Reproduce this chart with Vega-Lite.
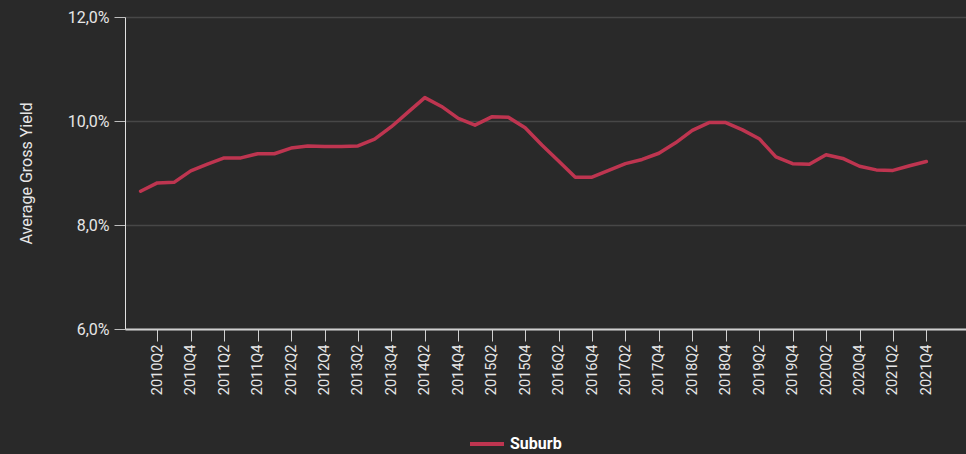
{
  "$schema": "https://vega.github.io/schema/vega-lite/v6.json",
  "width": 841,
  "height": 312,
  "autosize": {"type": "none"},
  "padding": {"left": 125, "top": 17, "right": 0, "bottom": 125},
  "background": "#292929",
  "config": {
    "view": {"stroke": null},
    "font": "Roboto"
  },
  "data": {
    "values": [
      {"quarter": "2010Q1", "t": 0, "yield": 8.65, "series": "Suburb"},
      {"quarter": "2010Q2", "t": 1, "yield": 8.81, "series": "Suburb"},
      {"quarter": "2010Q3", "t": 2, "yield": 8.82, "series": "Suburb"},
      {"quarter": "2010Q4", "t": 3, "yield": 9.04, "series": "Suburb"},
      {"quarter": "2011Q1", "t": 4, "yield": 9.17, "series": "Suburb"},
      {"quarter": "2011Q2", "t": 5, "yield": 9.29, "series": "Suburb"},
      {"quarter": "2011Q3", "t": 6, "yield": 9.29, "series": "Suburb"},
      {"quarter": "2011Q4", "t": 7, "yield": 9.37, "series": "Suburb"},
      {"quarter": "2012Q1", "t": 8, "yield": 9.37, "series": "Suburb"},
      {"quarter": "2012Q2", "t": 9, "yield": 9.48, "series": "Suburb"},
      {"quarter": "2012Q3", "t": 10, "yield": 9.52, "series": "Suburb"},
      {"quarter": "2012Q4", "t": 11, "yield": 9.51, "series": "Suburb"},
      {"quarter": "2013Q1", "t": 12, "yield": 9.51, "series": "Suburb"},
      {"quarter": "2013Q2", "t": 13, "yield": 9.52, "series": "Suburb"},
      {"quarter": "2013Q3", "t": 14, "yield": 9.65, "series": "Suburb"},
      {"quarter": "2013Q4", "t": 15, "yield": 9.89, "series": "Suburb"},
      {"quarter": "2014Q1", "t": 16, "yield": 10.17, "series": "Suburb"},
      {"quarter": "2014Q2", "t": 17, "yield": 10.45, "series": "Suburb"},
      {"quarter": "2014Q3", "t": 18, "yield": 10.28, "series": "Suburb"},
      {"quarter": "2014Q4", "t": 19, "yield": 10.05, "series": "Suburb"},
      {"quarter": "2015Q1", "t": 20, "yield": 9.92, "series": "Suburb"},
      {"quarter": "2015Q2", "t": 21, "yield": 10.08, "series": "Suburb"},
      {"quarter": "2015Q3", "t": 22, "yield": 10.07, "series": "Suburb"},
      {"quarter": "2015Q4", "t": 23, "yield": 9.87, "series": "Suburb"},
      {"quarter": "2016Q1", "t": 24, "yield": 9.54, "series": "Suburb"},
      {"quarter": "2016Q2", "t": 25, "yield": 9.23, "series": "Suburb"},
      {"quarter": "2016Q3", "t": 26, "yield": 8.92, "series": "Suburb"},
      {"quarter": "2016Q4", "t": 27, "yield": 8.92, "series": "Suburb"},
      {"quarter": "2017Q1", "t": 28, "yield": 9.05, "series": "Suburb"},
      {"quarter": "2017Q2", "t": 29, "yield": 9.18, "series": "Suburb"},
      {"quarter": "2017Q3", "t": 30, "yield": 9.26, "series": "Suburb"},
      {"quarter": "2017Q4", "t": 31, "yield": 9.38, "series": "Suburb"},
      {"quarter": "2018Q1", "t": 32, "yield": 9.58, "series": "Suburb"},
      {"quarter": "2018Q2", "t": 33, "yield": 9.82, "series": "Suburb"},
      {"quarter": "2018Q3", "t": 34, "yield": 9.97, "series": "Suburb"},
      {"quarter": "2018Q4", "t": 35, "yield": 9.97, "series": "Suburb"},
      {"quarter": "2019Q1", "t": 36, "yield": 9.83, "series": "Suburb"},
      {"quarter": "2019Q2", "t": 37, "yield": 9.66, "series": "Suburb"},
      {"quarter": "2019Q3", "t": 38, "yield": 9.31, "series": "Suburb"},
      {"quarter": "2019Q4", "t": 39, "yield": 9.18, "series": "Suburb"},
      {"quarter": "2020Q1", "t": 40, "yield": 9.17, "series": "Suburb"},
      {"quarter": "2020Q2", "t": 41, "yield": 9.35, "series": "Suburb"},
      {"quarter": "2020Q3", "t": 42, "yield": 9.28, "series": "Suburb"},
      {"quarter": "2020Q4", "t": 43, "yield": 9.13, "series": "Suburb"},
      {"quarter": "2021Q1", "t": 44, "yield": 9.06, "series": "Suburb"},
      {"quarter": "2021Q2", "t": 45, "yield": 9.05, "series": "Suburb"},
      {"quarter": "2021Q3", "t": 46, "yield": 9.14, "series": "Suburb"},
      {"quarter": "2021Q4", "t": 47, "yield": 9.22, "series": "Suburb"}
    ]
  },
  "mark": {"type": "line", "strokeWidth": 3.5, "strokeJoin": "round", "strokeCap": "round"},
  "encoding": {
    "x": {
      "field": "t",
      "type": "quantitative",
      "scale": {"domain": [-0.933, 49.37], "zero": false, "nice": false},
      "axis": {
        "title": null,
        "values": [1,3,5,7,9,11,13,15,17,19,21,23,25,27,29,31,33,35,37,39,41,43,45,47],
        "labelExpr": "(2010 + floor(datum.value / 4)) + 'Q' + (datum.value % 4 + 1)",
        "labelAngle": 270,
        "labelAlign": "right",
        "labelBaseline": "middle",
        "labelFont": "Roboto",
        "labelFontSize": 14.5,
        "labelColor": "#e6e6e6",
        "labelFlush": false,
        "labelOverlap": false,
        "tickSize": 12,
        "tickColor": "#d0d0d0",
        "domainColor": "#cfcfcf",
        "domainWidth": 2,
        "labelPadding": 3,
        "grid": false
      }
    },
    "y": {
      "field": "yield",
      "type": "quantitative",
      "scale": {"domain": [6, 12], "zero": false},
      "axis": {
        "title": "Average Gross Yield",
        "values": [6, 8, 10, 12],
        "labelExpr": "replace(format(datum.value, '.1f'), '.', ',') + '%'",
        "labelFont": "Roboto",
        "labelFontSize": 16,
        "labelColor": "#e6e6e6",
        "titleFont": "Roboto",
        "titleFontSize": 16,
        "titleFontWeight": "normal",
        "titleColor": "#e6e6e6",
        "tickSize": 11,
        "tickColor": "#bdbdbd",
        "domainColor": "#e0e0e0",
        "labelPadding": 5,
        "titlePadding": 33,
        "grid": true,
        "gridColor": "#474747",
        "gridWidth": 1.5
      }
    },
    "color": {
      "field": "series",
      "type": "nominal",
      "scale": {"range": ["#be3550"]},
      "legend": {
        "title": null,
        "orient": "none",
        "legendX": 343,
        "legendY": 408,
        "symbolType": "stroke",
        "symbolSize": 1156,
        "symbolStrokeWidth": 4,
        "labelColor": "#ffffff",
        "labelFont": "Roboto",
        "labelFontSize": 16,
        "labelFontWeight": "bold"
      }
    }
  }
}
